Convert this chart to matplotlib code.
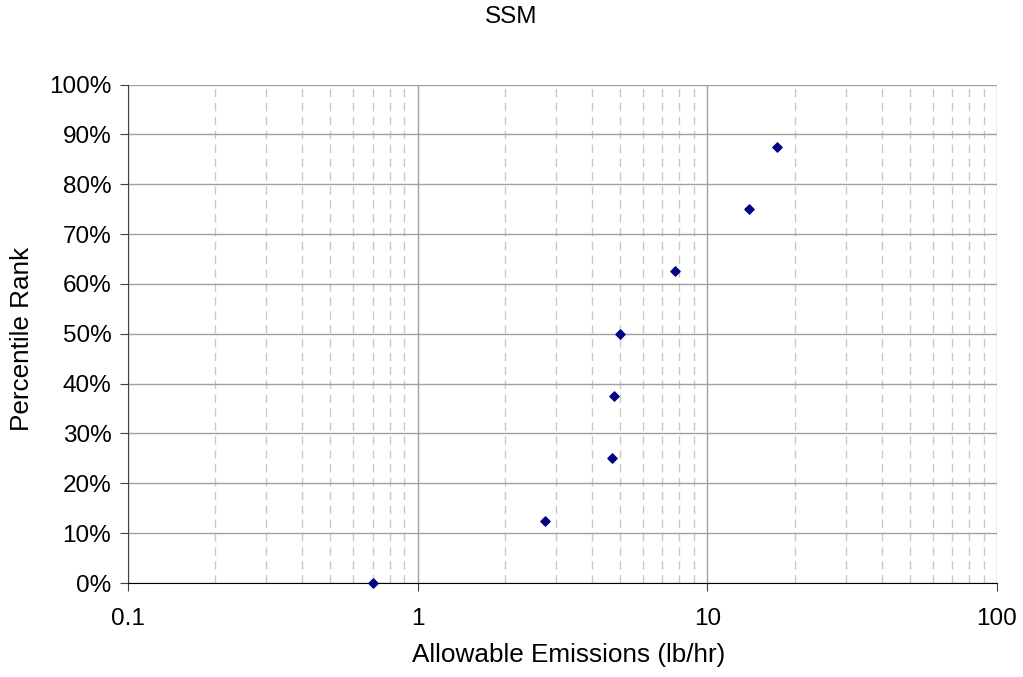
import matplotlib
matplotlib.use('Agg')
import matplotlib.pyplot as plt
from matplotlib.ticker import FuncFormatter, LogLocator, NullFormatter

emissions = [0.70, 2.76, 4.67, 4.78, 5.01, 7.76, 13.96, 17.4]
rank = [0.0, 0.125, 0.25, 0.375, 0.5, 0.625, 0.75, 0.875]

plt.rcParams['font.family'] = ['Liberation Sans', 'DejaVu Sans']
fs = 17.5
lfs = 18.8

fig = plt.figure(figsize=(10.23, 6.77), dpi=100)
ax = fig.add_axes([128 / 1023, 1 - 583 / 677, (997 - 128) / 1023, (583 - 84.5) / 677])

ax.scatter(emissions, rank, marker='D', s=22, color='#000080', zorder=5, clip_on=False)

ax.set_xscale('log')
ax.set_xlim(0.1, 100)
ax.set_ylim(0, 1)
ax.set_yticks([i / 10 for i in range(11)])
ax.yaxis.set_major_formatter(FuncFormatter(lambda v, p: f'{v * 100:.0f}%'))
ax.xaxis.set_major_locator(LogLocator(base=10, numticks=10))
ax.xaxis.set_major_formatter(FuncFormatter(lambda v, p: f'{v:g}'))
ax.xaxis.set_minor_locator(LogLocator(base=10, subs=range(2, 10), numticks=10))
ax.xaxis.set_minor_formatter(NullFormatter())

ax.grid(which='major', axis='both', color='#a0a0a0', linewidth=1)
ax.grid(which='minor', axis='x', color='#c8c8c8', linewidth=1, linestyle=(0, (6, 4)))
ax.set_axisbelow(True)

ax.spines['top'].set_visible(False)
ax.spines['right'].set_visible(False)
ax.spines['left'].set_color('#404040')
ax.spines['bottom'].set_color('black')

ax.tick_params(axis='both', which='major', direction='out', length=6, labelsize=fs, pad=6, color='#404040')
ax.tick_params(axis='x', which='minor', length=0)
ax.tick_params(axis='x', which='major', pad=12)

# axis labels placed to match the original layout
ax.set_xlabel('Allowable Emissions (lb/hr)', fontsize=lfs, va='center')
ax.set_ylabel('Percentile Rank', fontsize=lfs, va='center')
ax.xaxis.set_label_coords((569 - 128) / (997 - 128), (583 - 655) / (583 - 84.5))
ax.yaxis.set_label_coords((22 - 128) / (997 - 128), (583 - 338.5) / (583 - 84.5))

fig.text(0.5, 1 - 17 / 677, 'SSM', ha='center', va='center', fontsize=fs)

fig.savefig('out.png', dpi=100)
